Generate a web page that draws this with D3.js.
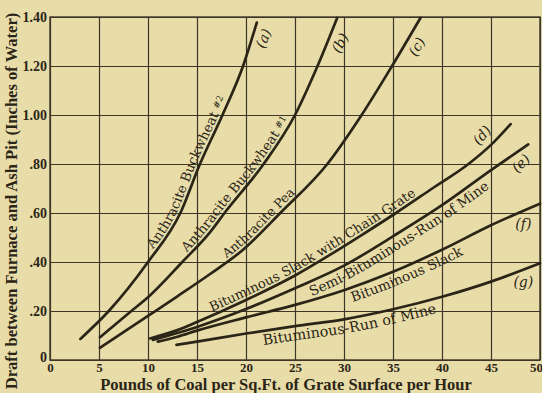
<!DOCTYPE html>
<html><head><meta charset="utf-8">
<script src="https://cdn.jsdelivr.net/npm/d3@7"></script>
<style>html,body{margin:0;padding:0;background:#e8dda9;} svg{display:block}</style>
</head><body><svg id="c" width="542" height="393"></svg>
<script>
// ---- data ----
const xTicks = [0,5,10,15,20,25,30,35,40,45,50];
const xTickLabels = ["0","5","10","15","20","25","30","35","40","45","50"];
const yTicks = [0,0.2,0.4,0.6,0.8,1.0,1.2,1.4];
const yTickLabels = ["0",".20",".40",".60",".80","1.00","1.20","1.40"];
const xTitle = "Pounds of Coal per Sq.Ft. of Grate Surface per Hour";
const yTitle = "Draft between Furnace and Ash Pit (Inches of Water)";

const seriesKeys = ["(a)","(b)","(c)","(d)","(e)","(f)","(g)"];
const seriesNames = ["Anthracite Buckwheat #2","Anthracite Buckwheat #1","Anthracite Pea",
  "Bituminous Slack with Chain Grate","Semi-Bituminous-Run of Mine","Bituminous Slack","Bituminous-Run of Mine"];

const aX = [3.1,6,10,13.3,15.3,17.6,19.7,21.1];
const aY = [0.086,0.20,0.40,0.60,0.80,1.00,1.20,1.377];
const bX = [5.1,8.3,10,13.5,16.3,18,21.8,25,27.3,29.3];
const bY = [0.093,0.20,0.256,0.40,0.52,0.61,0.80,1.00,1.20,1.396];
const cX = [5.1,10,13,16.3,19.7,23.5,28.3,31.8,34.9,37.8];
const cY = [0.05,0.18,0.26,0.35,0.45,0.60,0.80,1.00,1.20,1.396];
const dX = [10.2,13,15,20,25,28.6,32,35.3,39,42.7,45,47];
const dY = [0.088,0.122,0.155,0.245,0.345,0.43,0.515,0.60,0.70,0.80,0.878,0.963];
const eX = [10.5,13,15,20,25,30,35,40,45,48.8];
const eY = [0.082,0.11,0.135,0.208,0.293,0.385,0.505,0.632,0.775,0.88];
const fX = [11,13,15,20,25,30,35,40,45,50];
const fY = [0.075,0.095,0.12,0.174,0.225,0.285,0.36,0.45,0.55,0.638];
const gX = [12.9,15,20,25,30,35,40,45,50];
const gY = [0.062,0.075,0.108,0.138,0.166,0.207,0.258,0.32,0.395];

// ---- layout ----
const W = 542, H = 393;
const svg = d3.select("#c");
const x = d3.scaleLinear().domain([0,50]).range([50,540]);
const y = d3.scaleLinear().domain([0,1.4]).range([360,17]);
const ink = "#2b2517", gridCol = "#3d3628";

svg.append("rect").attr("width",W).attr("height",H).attr("fill","#e8dda9");

// grid via axes
const gx = svg.append("g").attr("transform",`translate(0,${y(0)})`)
  .call(d3.axisBottom(x).tickValues(xTicks).tickSize(-(y(0)-y(1.4))).tickSizeOuter(0)
    .tickFormat((d,i)=>xTickLabels[i]));
gx.select(".domain").remove();
gx.selectAll(".tick line").attr("stroke",gridCol).attr("stroke-width",1.2);
gx.selectAll(".tick text").attr("fill",ink).attr("font-family","Liberation Serif")
  .attr("font-weight","bold").attr("font-size",13).attr("y",3).attr("dy","0.71em")
  .attr("dx",(d)=> d===50 ? "-0.3em" : 0);

const gy = svg.append("g").attr("transform",`translate(${x(0)},0)`)
  .call(d3.axisLeft(y).tickValues(yTicks).tickSize(-(x(50)-x(0))).tickSizeOuter(0)
    .tickFormat((d,i)=>yTickLabels[i]));
gy.select(".domain").remove();
gy.selectAll(".tick line").attr("stroke",gridCol).attr("stroke-width",1.2);
gy.selectAll(".tick text").attr("fill",ink).attr("font-family","Liberation Serif")
  .attr("font-weight","bold").attr("font-size",14).attr("x",-3)
  .attr("dy",(d)=> d===0 ? "0.1em" : "0.32em");

// frame
svg.append("rect").attr("x",x(0)).attr("y",y(1.4)).attr("width",x(50)-x(0)).attr("height",y(0)-y(1.4))
  .attr("fill","none").attr("stroke",gridCol).attr("stroke-width",1.4);

// curves
const series = [[aX,aY],[bX,bY],[cX,cY],[dX,dY],[eX,eY],[fX,fY],[gX,gY]];
const line = d3.line().x(p=>x(p[0])).y(p=>y(p[1])).curve(d3.curveMonotoneX);
const curveNodes = series.map(([xs,ys])=>
  svg.append("path").attr("d", line(xs.map((v,i)=>[v,ys[i]])))
    .attr("fill","none").attr("stroke",ink).attr("stroke-width",2.7).attr("stroke-linecap","round").node());

// key labels (a)...(g), placed in data coordinates
const keyPos = [[21.77,1.313,-68],[29.59,1.294,-62],[37.42,1.279,-60],[44.05,0.918,-50],[48.03,0.803,-45],[48.3,0.554,0],[48.3,0.318,0]];
seriesKeys.forEach((k,i)=>{
  const [px,py,ang]=keyPos[i];
  svg.append("text").attr("transform",`translate(${x(px)},${y(py)}) rotate(${ang})`)
    .attr("text-anchor","middle").attr("dominant-baseline","central")
    .attr("font-family","DejaVu Serif").attr("font-style","italic").attr("font-size",14)
    .attr("fill",ink).text(k);
});

// name labels following their curves: [center x on curve (data), baseline offset px (+ above, - below), target length px]
const nameLayout = [[14.8,3.5,170],[19.7,3.5,170],[21.9,3.5,95],[27.4,3.5,236],[35.3,-14,209],[36.1,-14,121],[30.5,-14,177]];
const defs = svg.append("defs");
seriesNames.forEach((n,i)=>{
  const [cx,off,len] = nameLayout[i];
  const node = curveNodes[i];
  const L = node.getTotalLength();
  const pts = [];
  for (let s=0; s<=L; s+=1) pts.push(node.getPointAtLength(s));
  const offPts = pts.map((p,j)=>{
    const a = pts[Math.max(0,j-3)], b = pts[Math.min(pts.length-1,j+3)];
    let dx=b.x-a.x, dy=b.y-a.y; const m=Math.hypot(dx,dy)||1; dx/=m; dy/=m;
    return [p.x + off*dy, p.y - off*dx];
  });
  const tx = x(cx);
  let best=0; pts.forEach((p,j)=>{ if (Math.abs(p.x-tx) < Math.abs(pts[best].x-tx)) best=j; });
  let acc=0; for (let j=1;j<=best;j++) acc += Math.hypot(offPts[j][0]-offPts[j-1][0], offPts[j][1]-offPts[j-1][1]);
  const id = "lp"+i;
  defs.append("path").attr("id",id).attr("d", d3.line()(offPts));
  const t = svg.append("text").attr("font-family","DejaVu Serif").attr("font-size",12).attr("fill",ink);
  const tp = t.append("textPath").attr("href","#"+id).attr("startOffset",acc).attr("text-anchor","middle");
  const m = n.match(/^(.*)#(\d)$/);
  if (m) {
    tp.append("tspan").text(m[1]);
    tp.append("tspan").attr("font-size",9).attr("dy","-0.3em").text("#"+m[2]);
  } else tp.text(n);
  const w = t.node().getComputedTextLength();
  t.attr("font-size", 12*len/w);
});

// axis titles
const xt = svg.append("text").attr("x",(100+472)/2).attr("y",390).attr("text-anchor","middle")
  .attr("font-family","Liberation Serif").attr("font-weight","bold").attr("font-size",15)
  .attr("fill",ink).text(xTitle);
xt.attr("font-size",15*372/xt.node().getComputedTextLength());
const yt = svg.append("text").attr("transform",`translate(17,201) rotate(-90)`).attr("text-anchor","middle")
  .attr("font-family","Liberation Serif").attr("font-weight","bold").attr("font-size",15)
  .attr("fill",ink).text(yTitle);
yt.attr("font-size",15*377/yt.node().getComputedTextLength());
</script></body></html>
